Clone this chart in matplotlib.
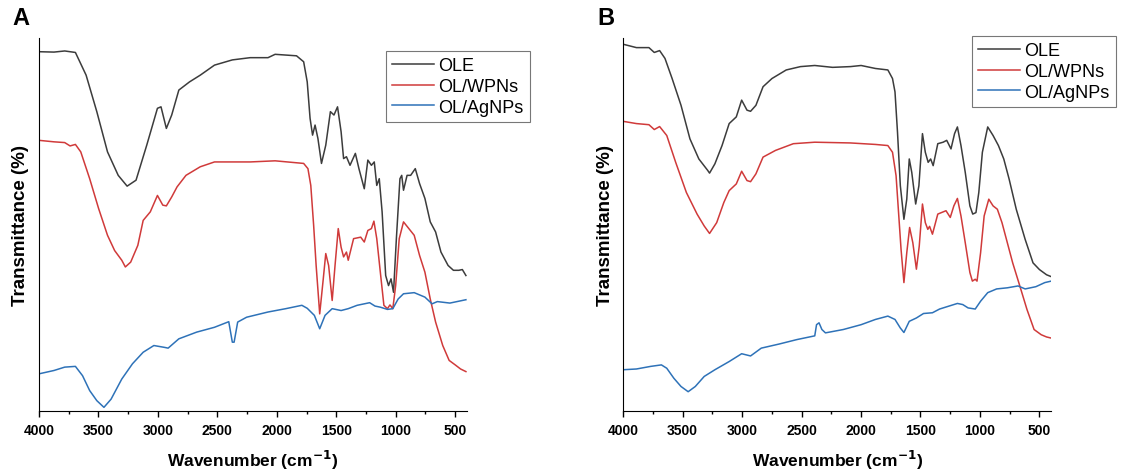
import matplotlib
matplotlib.use("Agg")
import matplotlib.pyplot as plt
from matplotlib.ticker import MultipleLocator

plt.rcParams['font.family'] = ['Liberation Sans', 'DejaVu Sans']

labels = ['OLE', 'OL/WPNs', 'OL/AgNPs']
colors = ['#3c3c3c', '#d03a3a', '#2e72b8']

# ---- panel A ----
a_ole_wn = [4000, 3874, 3784, 3694, 3604, 3514, 3424, 3334, 3259, 3184, 3094, 3004, 2974, 2929,
            2884, 2824, 2734, 2644, 2524, 2374, 2224, 2074, 2014, 1834, 1774, 1744, 1720, 1699,
            1678, 1654, 1624, 1588, 1549, 1519, 1489, 1459, 1438, 1414, 1384, 1339, 1309, 1264,
            1234, 1204, 1180, 1159, 1138, 1114, 1084, 1060, 1039, 1018, 994, 964, 949, 934, 904,
            874, 835, 799, 754, 709, 664, 619, 559, 514, 469, 439, 409]
a_ole_t = [96.4, 96.3, 96.6, 96.2, 90.1, 80.3, 69.5, 63.2, 60.3, 61.9, 71.3, 81.2, 81.6, 75.8,
           79.4, 86.1, 88.3, 90.1, 92.8, 94.2, 94.8, 94.8, 95.7, 95.3, 93.7, 88.3, 78.5, 74.0,
           76.7, 73.1, 66.4, 71.3, 80.3, 79.4, 81.6, 74.9, 67.7, 68.2, 65.9, 69.1, 65.0, 59.6,
           67.3, 65.9, 66.8, 60.5, 62.3, 53.4, 36.3, 33.6, 35.4, 31.8, 46.2, 62.3, 63.2, 59.2, 63.2,
           63.2, 65.0, 61.0, 57.0, 50.7, 48.0, 42.6, 39.0, 37.7, 37.7, 37.9, 36.3]

a_wpn_wn = [4000, 3874, 3784, 3739, 3694, 3649, 3574, 3499, 3424, 3364, 3304, 3274, 3229, 3169,
            3124, 3064, 3004, 2959, 2929, 2884, 2839, 2764, 2644, 2524, 2374, 2224, 2014, 1774,
            1738, 1714, 1690, 1669, 1639, 1609, 1588, 1564, 1534, 1510, 1483, 1459, 1438, 1414,
            1399, 1354, 1294, 1264, 1234, 1204, 1183, 1159, 1129, 1099, 1069, 1048, 1024, 1000,
            970, 934, 889, 844, 799, 754, 709, 664, 604, 550, 499, 454, 409]
a_wpn_t = [72.6, 72.2, 72.0, 71.1, 71.5, 69.5, 62.3, 54.3, 47.1, 43.0, 40.4, 38.6, 39.9, 44.4,
           51.1, 53.4, 57.8, 55.2, 55.0, 57.4, 60.1, 63.2, 65.5, 66.8, 66.8, 66.8, 67.1, 66.4,
           65.0, 60.5, 49.8, 39.0, 26.0, 35.4, 42.2, 39.0, 29.6, 39.0, 48.9, 43.9, 41.3, 42.6,
           40.4, 46.2, 46.6, 45.3, 48.4, 48.9, 50.9, 46.2, 37.2, 28.3, 27.4, 28.4, 27.4, 33.6,
           46.2, 50.7, 48.9, 47.1, 41.7, 37.2, 30.0, 23.8, 17.5, 13.5, 12.3, 11.2, 10.5]

a_ag_wn = [4000, 3874, 3784, 3694, 3634, 3574, 3514, 3454, 3394, 3304, 3214, 3124, 3034, 2944,
           2914, 2824, 2674, 2524, 2404, 2374, 2359, 2329, 2254, 2074, 1924, 1789, 1744, 1684,
           1639, 1594, 1534, 1459, 1399, 1324, 1219, 1174, 1129, 1069, 1024, 979, 934, 844, 754,
           694, 649, 544, 409]
a_ag_t = [9.9, 10.8, 11.7, 11.9, 9.4, 5.4, 2.7, 0.9, 3.1, 8.5, 12.6, 15.7, 17.5, 17.0,
          16.8, 19.3, 21.1, 22.4, 23.9, 18.4, 18.4, 23.8, 25.1, 26.5, 27.4, 28.3, 27.5, 25.6,
          22.0, 25.6, 27.4, 26.9, 27.4, 28.3, 29.0, 28.1, 27.8, 27.2, 27.4, 30.0, 31.4, 31.7, 30.5,
          28.7, 29.3, 28.9, 29.8]

# ---- panel B ----
b_ole_wn = [4000, 3889, 3784, 3739, 3694, 3649, 3589, 3514, 3439, 3364, 3289, 3274, 3229, 3169,
            3109, 3049, 3004, 2959, 2929, 2884, 2824, 2749, 2629, 2509, 2389, 2239, 2089, 1999,
            1879, 1774, 1735, 1714, 1693, 1669, 1639, 1615, 1594, 1573, 1540, 1513, 1483, 1459,
            1435, 1414, 1393, 1354, 1309, 1279, 1243, 1213, 1189, 1159, 1123, 1084, 1060, 1033,
            1009, 979, 934, 889, 844, 799, 754, 694, 619, 553, 499, 439, 400]
b_ole_t = [98.4, 97.5, 97.5, 96.2, 96.7, 94.6, 89.2, 82.0, 73.0, 67.6, 64.5, 63.8, 66.3, 71.2,
           77.1, 78.9, 83.4, 80.7, 80.4, 82.0, 87.0, 89.2, 91.5, 92.4, 92.7, 92.2, 92.4, 92.7,
           91.9, 91.5, 89.2, 85.6, 74.8, 60.4, 51.4, 56.8, 67.6, 64.0, 55.5, 60.4, 74.4, 69.4,
           66.7, 67.6, 65.8, 71.7, 72.1, 72.6, 70.3, 74.4, 76.2, 71.2, 64.0, 55.0, 52.8, 53.2,
           58.6, 69.4, 76.2, 73.9, 71.2, 67.6, 62.2, 54.1, 46.0, 39.7, 37.9, 36.5, 36.0]

b_wpn_wn = [4000, 3889, 3784, 3739, 3694, 3634, 3559, 3469, 3379, 3319, 3274, 3214, 3154, 3109,
            3049, 3004, 2959, 2929, 2884, 2824, 2719, 2569, 2389, 2089, 1879, 1774, 1735, 1705,
            1684, 1663, 1639, 1615, 1591, 1564, 1534, 1510, 1483, 1459, 1438, 1423, 1399, 1354,
            1285, 1249, 1219, 1189, 1159, 1123, 1084, 1063, 1039, 1024, 994, 964, 925, 889, 853,
            814, 769, 724, 664, 604, 544, 484, 439, 400]
b_wpn_t = [77.7, 77.1, 76.8, 75.5, 76.3, 73.9, 66.7, 58.6, 52.8, 49.6, 47.6, 50.5, 55.9, 59.1,
           60.9, 64.3, 61.8, 61.5, 63.6, 68.1, 69.9, 71.7, 72.1, 71.9, 71.5, 71.2, 69.4, 63.1,
           53.2, 43.3, 34.4, 42.4, 49.2, 45.1, 38.0, 44.2, 55.5, 50.5, 48.7, 49.5, 47.4, 52.8,
           53.7, 51.9, 55.0, 57.0, 52.3, 45.1, 37.1, 34.8, 35.3, 34.8, 42.4, 52.3, 56.8, 55.0, 54.1,
           50.5, 45.1, 39.7, 33.5, 27.2, 21.8, 20.4, 19.8, 19.5]

b_ag_wn = [4000, 3889, 3769, 3679, 3634, 3574, 3514, 3454, 3394, 3319, 3229, 3109, 3004, 2929,
           2839, 2689, 2539, 2389, 2374, 2353, 2329, 2299, 2149, 1999, 1879, 1774, 1714, 1669,
           1639, 1594, 1534, 1474, 1399, 1339, 1249, 1189, 1144, 1099, 1039, 994, 934, 859, 769,
           679, 619, 529, 454, 400]
b_ag_t = [11.0, 11.2, 11.9, 12.3, 11.4, 8.7, 6.5, 5.1, 6.5, 9.2, 11.0, 13.2, 15.3, 14.7,
          16.8, 17.9, 19.1, 20.1, 23.1, 23.6, 21.8, 20.9, 21.8, 23.1, 24.5, 25.4, 24.5, 22.2,
          21.0, 24.0, 24.9, 26.1, 26.3, 27.3, 28.2, 28.8, 28.5, 27.6, 27.3, 29.4, 31.7, 32.7, 33.0,
          33.5, 32.7, 33.3, 34.4, 34.8]

panels = [
    ('A', [(a_ole_wn, a_ole_t), (a_wpn_wn, a_wpn_t), (a_ag_wn, a_ag_t)]),
    ('B', [(b_ole_wn, b_ole_t), (b_wpn_wn, b_wpn_t), (b_ag_wn, b_ag_t)]),
]

fig = plt.figure(figsize=(11.25, 4.77), dpi=100)
ax_lefts = [0.0347, 0.554]
leg_anchor = [(0.4711, 0.891), (0.992, 0.9224)]
tag_x = [0.019, 0.539]

for i, (tag, series) in enumerate(panels):
    ax = fig.add_axes([ax_lefts[i], 0.1369, 0.3804, 0.7807])
    for (wn, t), lab, col in zip(series, labels, colors):
        ax.plot(wn, t, color=col, lw=1.1, label=lab)
    ax.set_xlim(4000, 400)
    ax.set_ylim(0, 100)
    ax.spines['top'].set_visible(False)
    ax.spines['right'].set_visible(False)
    ax.set_yticks([])
    ax.xaxis.set_major_locator(MultipleLocator(500))
    ax.xaxis.set_minor_locator(MultipleLocator(250))
    ax.tick_params(axis='x', which='major', direction='out', length=4.5, width=1, labelsize=10, pad=4)
    ax.tick_params(axis='x', which='minor', direction='out', length=2.5, width=1)
    for lbl in ax.get_xticklabels():
        lbl.set_fontweight('bold')
    ax.set_xlabel('Wavenumber (cm$^{\\mathbf{-1}}$)', fontsize=12.5, fontweight='bold', labelpad=8)
    ax.set_ylabel('Transmittance (%)', fontsize=13.5, fontweight='bold', labelpad=7)
    leg = ax.legend(loc='upper right', bbox_to_anchor=leg_anchor[i], bbox_transform=fig.transFigure,
                    fontsize=13, frameon=True, fancybox=False, borderaxespad=0,
                    handlelength=2.3, handletextpad=0.25, labelspacing=0.2, borderpad=0.35)
    leg.get_frame().set_edgecolor('#555555')
    leg.get_frame().set_linewidth(0.8)
    fig.text(tag_x[i], 0.962, tag, fontsize=17, fontweight='bold', ha='center', va='center')

fig.savefig('out.png', dpi=100)
